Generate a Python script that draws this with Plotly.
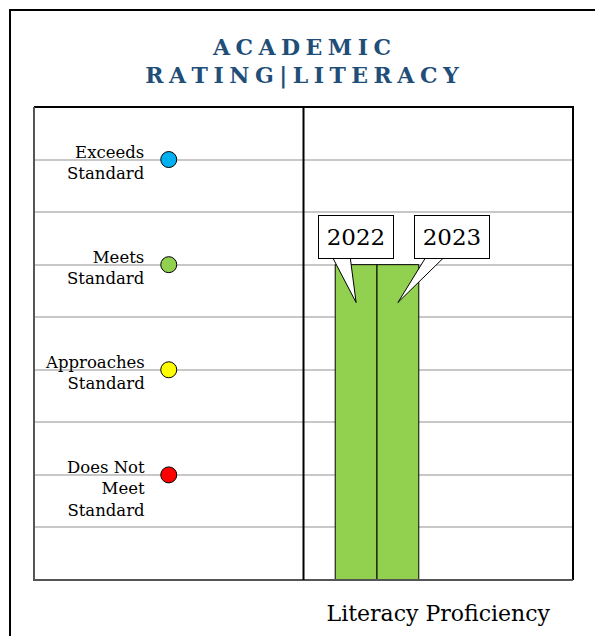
import plotly.graph_objects as go

# rating levels (left panel)
levels = ["Does Not<br>Meet<br>Standard", "Approaches<br>Standard", "Meets<br>Standard", "Exceeds<br>Standard"]
level_values = [1, 2, 3, 4]
level_colors = ["#ff0000", "#ffff00", "#92d050", "#00b0f0"]

# literacy proficiency by year (right panel)
years = ["2022", "2023"]
ratings = [3, 3]
category = "Literacy Proficiency"

FONT = "DejaVu Serif"
bar_color = "#92d050"

fig = go.Figure()

# left panel: rating markers
fig.add_trace(go.Scatter(
    x=[0] * len(level_values), y=level_values, mode="markers",
    marker=dict(size=16, color=level_colors, line=dict(color="black", width=1)),
    xaxis="x", yaxis="y", showlegend=False, hoverinfo="skip",
))

for lab, v in zip(levels, level_values):
    fig.add_annotation(
        x=0, y=v, xref="x", yref="y", text=lab, showarrow=False,
        xanchor="right", yanchor="top", align="right",
        xshift=-22, yshift=19,
        font=dict(family=FONT, size=16.5, color="black"),
    )

# right panel: bars
for yr, r in zip(years, ratings):
    fig.add_trace(go.Bar(
        x=[category], y=[r], name=yr, offsetgroup=yr,
        marker=dict(color=bar_color, line=dict(color="black", width=1)),
        xaxis="x2", yaxis="y", showlegend=False,
    ))

# callouts for bars
bargap = 0.42
group_w = 1 - bargap
bar_w = group_w / len(years)
box_dx = [0, 54]
for i, (yr, r) in enumerate(zip(years, ratings)):
    xc = -group_w / 2 + bar_w * (i + 0.5)
    tip_y = r - 0.36
    if i == 0:
        path = "M 0,0 L -24,46 L -6,46 Z"
    else:
        path = "M 0,0 L 29,47 L 48,47 Z"
    fig.add_shape(
        type="path", xref="x2", yref="y", xsizemode="pixel", ysizemode="pixel",
        xanchor=xc, yanchor=tip_y, path=path,
        fillcolor="white", line=dict(color="black", width=1), layer="above",
    )
    fig.add_annotation(
        x=xc, y=r, xref="x2", yref="y", text=yr, showarrow=False,
        xshift=box_dx[i], yshift=28,
        bgcolor="white", bordercolor="black", borderwidth=1, borderpad=5,
        width=64, height=32,
        font=dict(family=FONT, size=23, color="black"),
    )

# frame: top/right black, left/bottom dark grey; divider; outer border (left + top only)
fig.add_shape(type="path", xref="paper", yref="paper",
              path="M 0,1 L 1,1 L 1,0", line=dict(color="black", width=2), layer="above")
fig.add_shape(type="path", xref="paper", yref="paper",
              path="M 0,1 L 0,0 L 1,0", line=dict(color="#555555", width=2), layer="above")
fig.add_shape(type="line", xref="paper", yref="paper", x0=0.5, x1=0.5, y0=0, y1=1,
              line=dict(color="black", width=2), layer="above")
fig.add_shape(type="path", xref="paper", yref="paper",
              path="M -0.0445,-0.3 L -0.0445,1.205 L 1.3,1.205",
              line=dict(color="black", width=2), layer="above")

sp = "\u2005"
fig.update_layout(
    width=595, height=636,
    margin=dict(l=34, r=22, t=107, b=56),
    paper_bgcolor="white", plot_bgcolor="white",
    barmode="group", bargap=bargap, bargroupgap=0,
    title=dict(
        text="<b>" + sp.join("ACADEMIC") + "<br>" + sp.join("RATING|LITERACY") + "</b>",
        x=0.5075, xanchor="center", y=1 - 54.5 / 636, yanchor="middle",
        font=dict(family=FONT, size=22, color="#1f4e79"),
    ),
    xaxis=dict(domain=[0, 0.5], range=[-1, 1], showgrid=False, zeroline=False,
               showticklabels=False, anchor="y"),
    xaxis2=dict(domain=[0.5, 1], range=[-0.51, 1.36], showgrid=False, zeroline=False,
                showticklabels=False, anchor="y", automargin=False,
                title=dict(text=category, standoff=25,
                           font=dict(family=FONT, size=22, color="black"))),
    yaxis=dict(range=[0, 4.5], dtick=0.5, tick0=0, showticklabels=False,
               showgrid=True, gridcolor="#c8c8c8", gridwidth=2, zeroline=False),
)

fig.write_html("out.html", config={"displayModeBar": False},
               post_script="document.body.style.margin='0';document.body.style.overflow='hidden';")
